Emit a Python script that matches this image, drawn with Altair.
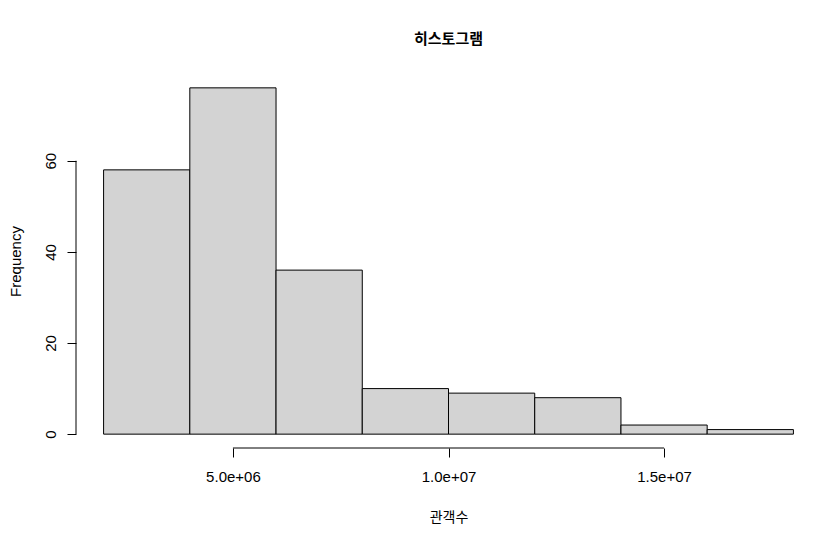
import altair as alt
import pandas as pd

# data
bin_start = [2e6, 4e6, 6e6, 8e6, 10e6, 12e6, 14e6, 16e6]
bin_end = [4e6, 6e6, 8e6, 10e6, 12e6, 14e6, 16e6, 18e6]
counts = [58, 76, 36, 10, 9, 8, 2, 1]
x_ticks = [5e6, 1e7, 1.5e7]
x_tick_labels = ["5.0e+06", "1.0e+07", "1.5e+07"]
y_ticks = [0, 20, 40, 60]

df = pd.DataFrame({"start": bin_start, "end": bin_end, "count": counts})

# R-style 4% range extension
xr = bin_end[-1] - bin_start[0]
x_dom = [bin_start[0] - 0.04 * xr, bin_end[-1] + 0.04 * xr]
yr = max(counts)
y_dom = [-0.04 * yr, yr * 1.04]

W, H = 745, 374
FONT = "Liberation Sans"

label_expr = " : ".join(
    [f"datum.value == {v} ? '{l}'" for v, l in zip(x_ticks, x_tick_labels)]
) + " : ''"

xs = alt.Scale(domain=x_dom, nice=False, zero=False)
ys = alt.Scale(domain=y_dom, nice=False, zero=False)

bars = alt.Chart(df).mark_rect(fill="#D3D3D3", stroke="black", strokeWidth=1).encode(
    x=alt.X("start:Q", scale=xs, axis=alt.Axis(
        values=x_ticks, labelExpr=label_expr, domain=False, grid=False,
        tickSize=9, tickColor="black", tickWidth=1, labelPadding=12,
        labelFont=FONT, labelFontSize=15, labelColor="black",
        title="관객수", titleFont="Noto Sans CJK KR", titleFontSize=14,
        titleFontWeight="normal", titleColor="black",
        titleY=69, titleBaseline="middle")),
    x2="end:Q",
    y=alt.Y("count:Q", scale=ys, axis=alt.Axis(
        values=y_ticks, domain=False, grid=False,
        tickSize=9, tickColor="black", tickWidth=1, labelPadding=12,
        labelAngle=-90, labelAlign="center", labelBaseline="alphabetic",
        labelFont=FONT, labelFontSize=15, labelColor="black",
        title="Frequency", titleFont=FONT, titleFontSize=15,
        titleFontWeight="normal", titleColor="black",
        titleAngle=-90, titleX=-61, titleY=H / 2, titleAlign="center",
        titleBaseline="middle")),
    y2=alt.datum(0),
)

xdom_df = pd.DataFrame({"a": [x_ticks[0]], "b": [x_ticks[-1]], "y": [y_dom[0]]})
xaxis_line = alt.Chart(xdom_df).mark_rule(color="black", strokeWidth=1).encode(
    x=alt.X("a:Q", scale=xs), x2="b:Q", y=alt.Y("y:Q", scale=ys)
)
ydom_df = pd.DataFrame({"a": [y_ticks[0]], "b": [y_ticks[-1]], "x": [x_dom[0]]})
yaxis_line = alt.Chart(ydom_df).mark_rule(color="black", strokeWidth=1).encode(
    y=alt.Y("a:Q", scale=ys), y2="b:Q", x=alt.X("x:Q", scale=xs)
)

chart = alt.layer(bars, xaxis_line, yaxis_line).properties(
    width=W, height=H,
    title=alt.TitleParams("히스토그램", font="Noto Sans CJK KR", fontSize=15,
                          fontWeight="bold", anchor="middle", baseline="middle",
                          offset=20, color="black"),
    autosize=alt.AutoSizeParams(type="none"),
    padding={"left": 68, "top": 66, "right": 2, "bottom": 80},
).configure(background="white", view=alt.ViewConfig(stroke=None))

chart.save("out.html", embed_options={"renderer": "svg", "actions": False})
